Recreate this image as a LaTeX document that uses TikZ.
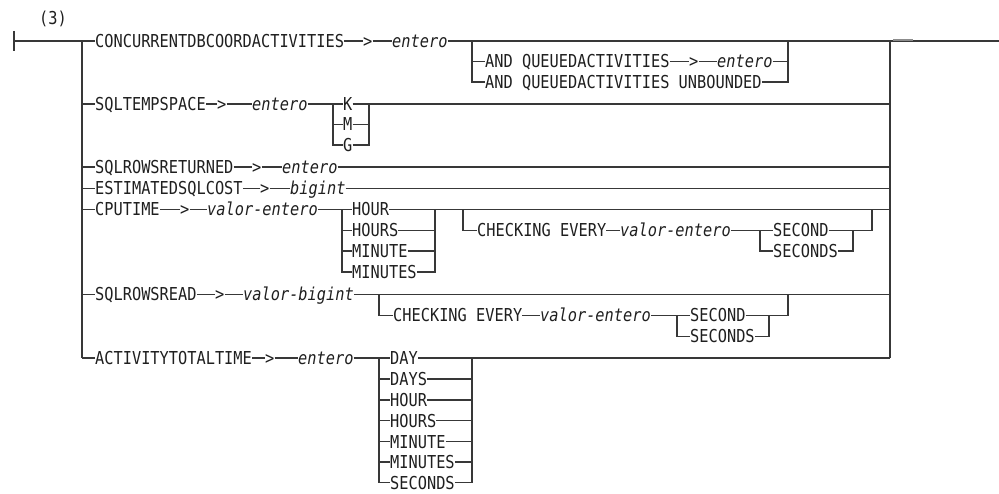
\documentclass[tikz,border=0pt]{standalone}
\usepackage{fontspec}
\setmonofont{DejaVu Sans Mono}[FakeStretch=0.86]
\begin{document}
\begin{tikzpicture}[x=1pt,y=-1pt,
  rail/.style={line width=1.1pt,draw=black!78},
  kw/.style={inner sep=0pt,anchor=west,text height=13pt,text depth=0pt,
    font=\ttfamily\fontsize{17.8}{20}\selectfont,text=black!88},
  var/.style={kw,font=\ttfamily\itshape\fontsize{17.8}{20}\selectfont}]
\useasboundingbox (0,0) rectangle (999,494);
% label
\node[kw,anchor=center,text height=,text depth=] (lab) at (53,19) {(3)};
% ---- coordinates of the main rails
\coordinate (s0) at (14,41);
\coordinate (s0t) at (14,31);
\coordinate (s0b) at (14,51);
\coordinate (L1) at (82,41);
\coordinate (L2) at (82,104);
\coordinate (L3) at (82,167);
\coordinate (L4) at (82,188.5);
\coordinate (L5) at (82,209.5);
\coordinate (L6) at (82,294.5);
\coordinate (L7) at (82,358);
\coordinate (R1) at (890,41);
\coordinate (R2) at (890,104);
\coordinate (R3) at (890,167);
\coordinate (R4) at (890,188.5);
\coordinate (R5) at (890,209.5);
\coordinate (R6) at (890,294.5);
\coordinate (R7) at (890,358);
\coordinate (E) at (999,41);
\coordinate (Ea) at (893,40.3);
\coordinate (Eb) at (913,40.3);
% ---- row 1
\node[kw] (c1) at (95,41) {CONCURRENTDBCOORDACTIVITIES};
\node[kw] (c1g) at (363,41) {>};
\node[var] (c1e) at (392,41) {entero};
\coordinate (B1) at (472,41);
\coordinate (B1b) at (472,61.5);
\coordinate (B1c) at (472,82);
\coordinate (Q1) at (788,41);
\coordinate (Q1b) at (788,61.5);
\coordinate (Q1c) at (788,82);
\node[kw] (q1) at (485,61.5) {AND QUEUEDACTIVITIES};
\node[kw] (q1g) at (689,61.5) {>};
\node[var] (q1e) at (717,61.5) {entero};
\node[kw] (q2) at (485,82) {AND QUEUEDACTIVITIES UNBOUNDED};
% ---- row 2
\node[kw] (t1) at (95,104) {SQLTEMPSPACE};
\node[kw] (t1g) at (217,104) {>};
\node[var] (t1e) at (252,104) {entero};
\coordinate (B2) at (333,104);
\coordinate (B2m) at (333,124.5);
\coordinate (B2g) at (333,145);
\coordinate (K2) at (369,104);
\coordinate (K2m) at (369,124.5);
\coordinate (K2g) at (369,145);
\node[kw] (k) at (343,104) {K};
\node[kw] (m) at (343,124.5) {M};
\node[kw] (g) at (343,145) {G};
% ---- row 3
\node[kw] (r1) at (95,167) {SQLROWSRETURNED};
\node[kw] (r1g) at (252,167) {>};
\node[var] (r1e) at (282,167) {entero};
% ---- row 4
\node[kw] (e1) at (95,188.5) {ESTIMATEDSQLCOST};
\node[kw] (e1g) at (260,188.5) {>};
\node[var] (e1e) at (290,188.5) {bigint};
% ---- row 5
\node[kw] (p1) at (95,209.5) {CPUTIME};
\node[kw] (p1g) at (180,209.5) {>};
\node[var] (p1e) at (207,209.5) {valor-entero};
\coordinate (B5) at (342,209.5);
\coordinate (B5b) at (342,230.5);
\coordinate (B5c) at (342,251);
\coordinate (B5d) at (342,272);
\coordinate (H5) at (435,209.5);
\coordinate (H5b) at (435,230.5);
\coordinate (H5c) at (435,251);
\coordinate (H5d) at (435,272);
\node[kw] (h1) at (352,209.5) {HOUR};
\node[kw] (h2) at (352,230.5) {HOURS};
\node[kw] (h3) at (352,251) {MINUTE};
\node[kw] (h4) at (352,272) {MINUTES};
\coordinate (C5) at (463,209.5);
\coordinate (C5b) at (463,230.5);
\node[kw] (ch1) at (477,230.5) {CHECKING EVERY};
\node[var] (ch1e) at (620,230.5) {valor-entero};
\coordinate (S5) at (760,230.5);
\coordinate (S5b) at (760,251);
\node[kw] (sc1) at (773,230.5) {SECOND};
\node[kw] (ss1) at (773,251) {SECONDS};
\coordinate (I5) at (853,230.5);
\coordinate (I5b) at (853,251);
\coordinate (O5) at (872,209.5);
\coordinate (O5b) at (872,230.5);
% ---- row 6
\node[kw] (w1) at (95,294.5) {SQLROWSREAD};
\node[kw] (w1g) at (215,294.5) {>};
\node[var] (w1e) at (243,294.5) {valor-bigint};
\coordinate (C6) at (379,294.5);
\coordinate (C6b) at (379,315.5);
\node[kw] (ch2) at (393,315.5) {CHECKING EVERY};
\node[var] (ch2e) at (540,315.5) {valor-entero};
\coordinate (S6) at (677,315.5);
\coordinate (S6b) at (677,336.5);
\node[kw] (sc2) at (690,315.5) {SECOND};
\node[kw] (ss2) at (690,336.5) {SECONDS};
\coordinate (I6) at (769,315.5);
\coordinate (I6b) at (769,336.5);
\coordinate (O6) at (788,294.5);
\coordinate (O6b) at (788,315.5);
% ---- row 7
\node[kw] (a1) at (95,358) {ACTIVITYTOTALTIME};
\node[kw] (a1g) at (265,358) {>};
\node[var] (a1e) at (298,358) {entero};
\coordinate (B7) at (379,358);
\coordinate (B7z) at (379,482.5);
\coordinate (D7) at (472,358);
\coordinate (D7z) at (472,482.5);
\foreach \nm/\yy/\tx in {d1/358/DAY,d2/379/DAYS,d3/400/HOUR,d4/420.5/HOURS,d5/441.5/MINUTE,d6/462/MINUTES,d7/482.5/SECONDS}{
  \node[kw] (\nm) at (390,\yy) {\tx};
  \coordinate (\nm l) at (379,\yy);
  \coordinate (\nm r) at (472,\yy);
}
% ================= rails
\draw[rail] (s0t) -- (s0b);
\draw[rail] (s0) -- (L1) -- (c1);
\draw[rail] (c1) -- (c1g);
\draw[rail] (c1g) -- (c1e);
\draw[rail] (c1e) -- (B1) -- (Q1) -- (R1) -- (E);
\draw[line width=2pt,draw=black!45] (Ea) -- (Eb);
\draw[rail] (L1) -- (L7);
\draw[rail] (R1) -- (R7);
% row 1 alternatives
\draw[rail] (B1) -- (B1c) -- (q2) -- (Q1c) -- (Q1);
\draw[rail] (B1b) -- (q1);
\draw[rail] (q1) -- (q1g);
\draw[rail] (q1g) -- (q1e);
\draw[rail] (q1e) -- (Q1b);
% row 2
\draw[rail] (L2) -- (t1);
\draw[rail] (t1) -- (t1g);
\draw[rail] (t1g) -- (t1e);
\draw[rail] (t1e) -- (B2) -- (k);
\draw[rail] (k) -- (K2) -- (R2);
\draw[rail] (B2) -- (B2g) -- (g) -- (K2g) -- (K2);
\draw[rail] (B2m) -- (m) -- (K2m);
% row 3
\draw[rail] (L3) -- (r1);
\draw[rail] (r1) -- (r1g);
\draw[rail] (r1g) -- (r1e);
\draw[rail] (r1e) -- (R3);
% row 4
\draw[rail] (L4) -- (e1);
\draw[rail] (e1) -- (e1g);
\draw[rail] (e1g) -- (e1e);
\draw[rail] (e1e) -- (R4);
% row 5
\draw[rail] (L5) -- (p1);
\draw[rail] (p1) -- (p1g);
\draw[rail] (p1g) -- (p1e);
\draw[rail] (p1e) -- (B5) -- (h1);
\draw[rail] (h1) -- (H5) -- (C5) -- (O5) -- (R5);
\draw[rail] (B5) -- (B5d) -- (h4) -- (H5d) -- (H5);
\draw[rail] (B5b) -- (h2) -- (H5b);
\draw[rail] (B5c) -- (h3) -- (H5c);
\draw[rail] (C5) -- (C5b) -- (ch1);
\draw[rail] (ch1) -- (ch1e);
\draw[rail] (ch1e) -- (S5) -- (sc1);
\draw[rail] (sc1) -- (I5) -- (O5b) -- (O5);
\draw[rail] (S5) -- (S5b) -- (ss1) -- (I5b) -- (I5);
% row 6
\draw[rail] (L6) -- (w1);
\draw[rail] (w1) -- (w1g);
\draw[rail] (w1g) -- (w1e);
\draw[rail] (w1e) -- (C6) -- (O6) -- (R6);
\draw[rail] (C6) -- (C6b) -- (ch2);
\draw[rail] (ch2) -- (ch2e);
\draw[rail] (ch2e) -- (S6) -- (sc2);
\draw[rail] (sc2) -- (I6) -- (O6b) -- (O6);
\draw[rail] (S6) -- (S6b) -- (ss2) -- (I6b) -- (I6);
% row 7
\draw[rail] (L7) -- (a1);
\draw[rail] (a1) -- (a1g);
\draw[rail] (a1g) -- (a1e);
\draw[rail] (a1e) -- (B7) -- (d1);
\draw[rail] (d1) -- (D7) -- (R7);
\draw[rail] (B7) -- (B7z) -- (d7) -- (D7z) -- (D7);
\foreach \nm in {d2,d3,d4,d5,d6}{
  \draw[rail] (\nm l) -- (\nm) -- (\nm r);
}
\end{tikzpicture}
\end{document}
